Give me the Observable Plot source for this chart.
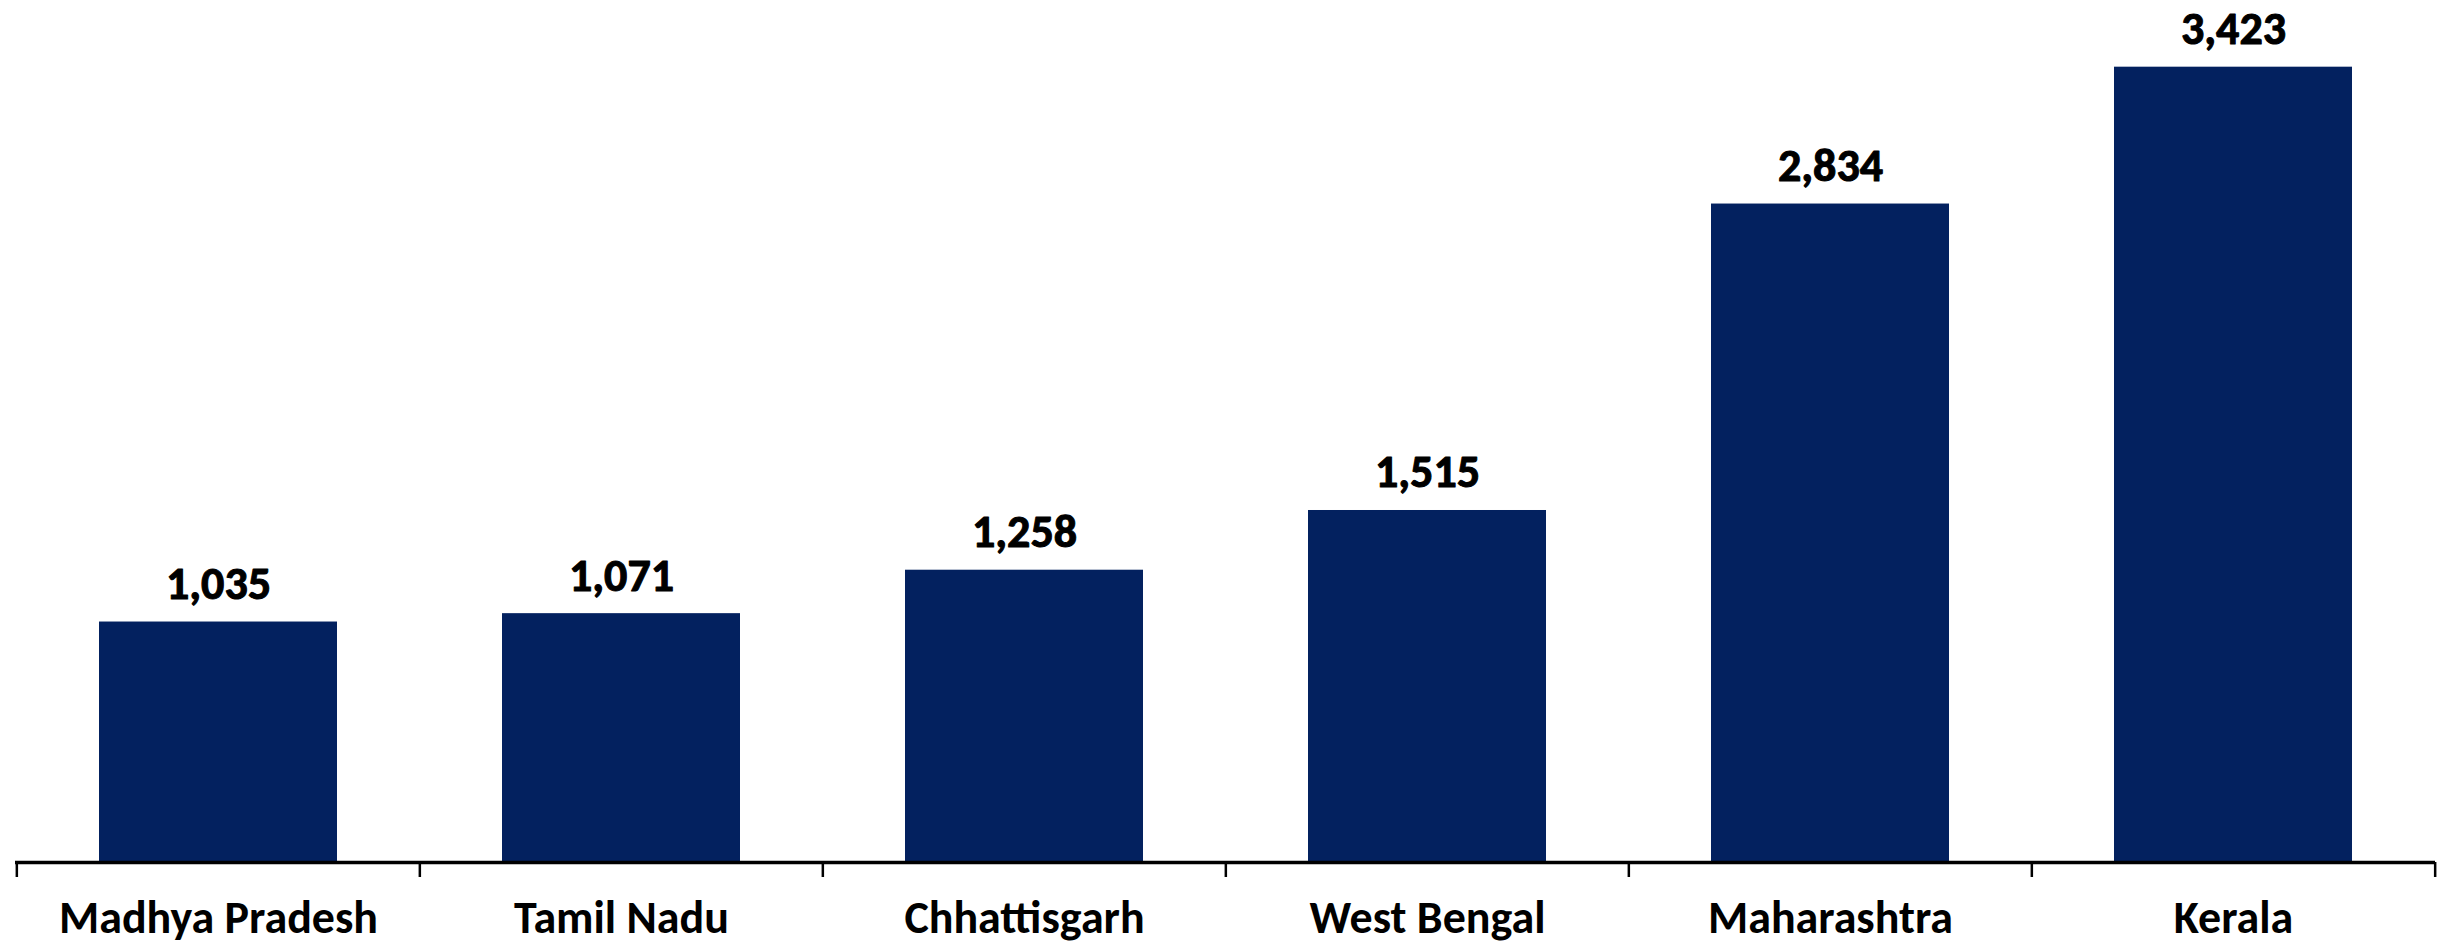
<!DOCTYPE html>
<html><head><meta charset="utf-8">
<script src="https://cdn.jsdelivr.net/npm/d3@7"></script>
<script src="https://cdn.jsdelivr.net/npm/@observablehq/plot@0.6"></script>
<style>
html,body{margin:0;padding:0;background:#fff;overflow:hidden;}
</style>
</head><body><div id="chart"></div>
<script>
const states = ["Madhya Pradesh", "Tamil Nadu", "Chhattisgarh", "West Bengal", "Maharashtra", "Kerala"];
const values = [1035, 1071, 1258, 1515, 2834, 3423];
const data = states.map((s, i) => ({state: s, value: values[i]}));

const W = 2440, H = 947, ML = 15, MR = 5, MT = 0, MB = 85;
const step = (W - ML - MR) / states.length;
const font = "Carlito, Calibri, Lato, sans-serif";

const plot = Plot.plot({
  width: W, height: H,
  marginLeft: ML, marginRight: MR, marginTop: MT, marginBottom: MB,
  style: {fontFamily: font, background: "#fff", color: "#000"},
  x: {domain: states, paddingInner: 0.41, paddingOuter: 0.205, label: null},
  y: {domain: [0, 3710], axis: null},
  marks: [
    Plot.barY(data, {x: "state", y: "value", fill: "#03215F"}),
    Plot.ruleY([0], {stroke: "#000", strokeWidth: 3.5}),
    Plot.ruleX(states, {x: d => d, y1: 0, y2: 0, dx: -step / 2, insetBottom: -15, stroke: "#000", strokeWidth: 2.5}),
    Plot.ruleX(states.slice(-1), {x: d => d, y1: 0, y2: 0, dx: step / 2, insetBottom: -15, stroke: "#000", strokeWidth: 2.5}),
    Plot.text(data, {x: "state", y: "value", text: d => d3.format(",")(d.value), dy: -23, lineAnchor: "bottom", fontSize: 46, fontWeight: "bold", fill: "#000", stroke: "#000", strokeWidth: 1}),
    Plot.axisX({tickSize: 0, tickPadding: 38, fontSize: 46, fontWeight: "bold", fill: "#000", stroke: "#000", strokeWidth: 1, label: null})
  ]
});
document.getElementById("chart").appendChild(plot);
</script>
</body></html>
